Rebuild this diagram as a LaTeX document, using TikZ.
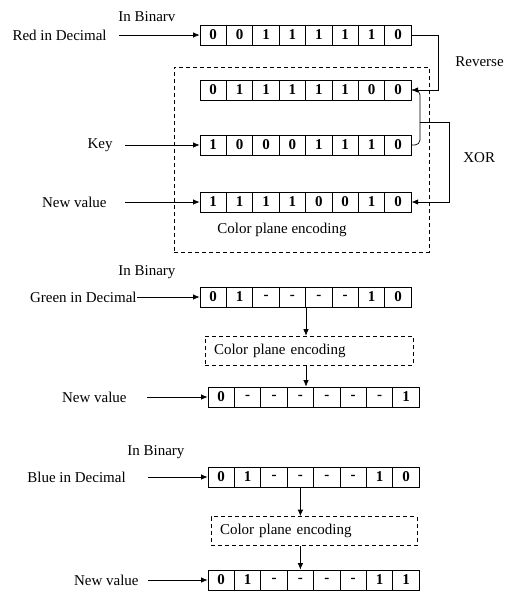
\documentclass[tikz,border=0pt]{standalone}
\usepackage{fontspec}
\setmainfont{Liberation Serif}
\usetikzlibrary{arrows.meta}

% one row of eight bit cells: name, left x, centre y, bits
\newcommand{\bitrow}[4]{%
	\foreach \b [count=\i] in {#4}
		\node[cell] (#1-\i) at ({#2+(\i-0.5)*26.4},#3) {\b};
}

\begin{document}
\begin{tikzpicture}[x=1pt,y=-1pt,>={Latex[length=6.5pt,width=5.5pt]},line width=0.7pt]
	\tikzstyle{cell}=[draw=black,line width=0.8pt,minimum width=26.4pt,minimum height=20pt,inner sep=0pt,font=\bfseries]
	\tikzstyle{annot}=[inner sep=0pt]
	\tikzstyle{plane}=[draw=black,dash pattern=on 4pt off 3pt,line width=0.7pt]
	\tikzstyle{plane-text}=[plane,text width=190pt,inner xsep=9pt,inner ysep=0pt,minimum height=29pt,align=left]
	\useasboundingbox (0,0) rectangle (506,592);
	\fontsize{15}{17}\selectfont

	% red plane
	\node[plane,minimum width=255pt,minimum height=185pt] (red-plane) at (301.5,159.5) {};
	\bitrow{red}{200}{35}{0,0,1,1,1,1,1,0}
	\bitrow{rev}{200}{90}{0,1,1,1,1,1,0,0}
	\bitrow{key}{200}{145}{1,0,0,0,1,1,1,0}
	\bitrow{new}{200}{202}{1,1,1,1,0,0,1,0}

	\node[annot,anchor=east] (red-text) at (107,35) {Red in Decimal};
	\node[annot,anchor=west] (red-bin) at (118,17) {In Binarv};
	\node[annot,anchor=east] (key-text) at (113,145) {Key};
	\node[annot,anchor=east] (new-text) at (107,202) {New value};
	\node[annot,anchor=west] (red-cpe) at (217,230) {Color plane encoding};
	\node[annot,anchor=west] (rev-text) at (455,62) {Reverse};
	\node[annot,anchor=west] (xor-text) at (463,158) {XOR};

	\path[->]
		(red-text.east)	edge[shorten <=12pt]	(red-1.west)
		(key-text.east)	edge[shorten <=12pt]	(key-1.west)
		(new-text.east)	edge[shorten <=18pt]	(new-1.west);

	\draw[->] (red-8.east) -- ++(27,0) |- (rev-8.east);
	\coordinate (xor-join) at (420,122);
	\draw[rounded corners=5pt] (rev-8.east) -| (xor-join);
	\draw[rounded corners=5pt] (key-8.east) -| (xor-join);
	\draw[->] (xor-join) -- ++(29,0) |- (new-8.east);

	% green plane
	\bitrow{green}{200}{297}{0,1,-,-,-,-,1,0}
	\bitrow{gnew}{208}{397}{0,-,-,-,-,-,-,1}
	\node[plane-text] (green-plane) at (309,350.5) {Color plane encoding};

	\node[annot,anchor=west] (green-bin) at (118,272) {In Binary};
	\node[annot,anchor=east] (green-text) at (137,297) {Green in Decimal};
	\node[annot,anchor=east] (gnew-text) at (127,397) {New value};

	\path[->]
		(green-text.east)	edge	(green-1.west)
		(gnew-text.east)	edge[shorten <=20pt]	(gnew-1.west)
		(green-4.south east)	edge	(green-4.south east |- green-plane.north)
		(green-plane.south -| green-4.east)	edge	(gnew-4.north -| green-4.east);

	% blue plane
	\bitrow{blue}{208}{477}{0,1,-,-,-,-,1,0}
	\bitrow{bnew}{208}{580}{0,1,-,-,-,-,1,1}
	\node[plane-text,text width=188pt] (blue-plane) at (314,531) {Color plane encoding};

	\node[annot,anchor=west] (blue-bin) at (127,452) {In Binary};
	\node[annot,anchor=east] (blue-text) at (126,477) {Blue in Decimal};
	\node[annot,anchor=east] (bnew-text) at (139,580) {New value};

	\path[->]
		(blue-text.east)	edge[shorten <=22pt]	(blue-1.west)
		(bnew-text.east)	edge[shorten <=9pt]	(bnew-1.west)
		(blue-4.south)	edge	(blue-4.south |- blue-plane.north)
		(blue-plane.south -| blue-4.south)	edge	(bnew-4.north);
\end{tikzpicture}
\end{document}
